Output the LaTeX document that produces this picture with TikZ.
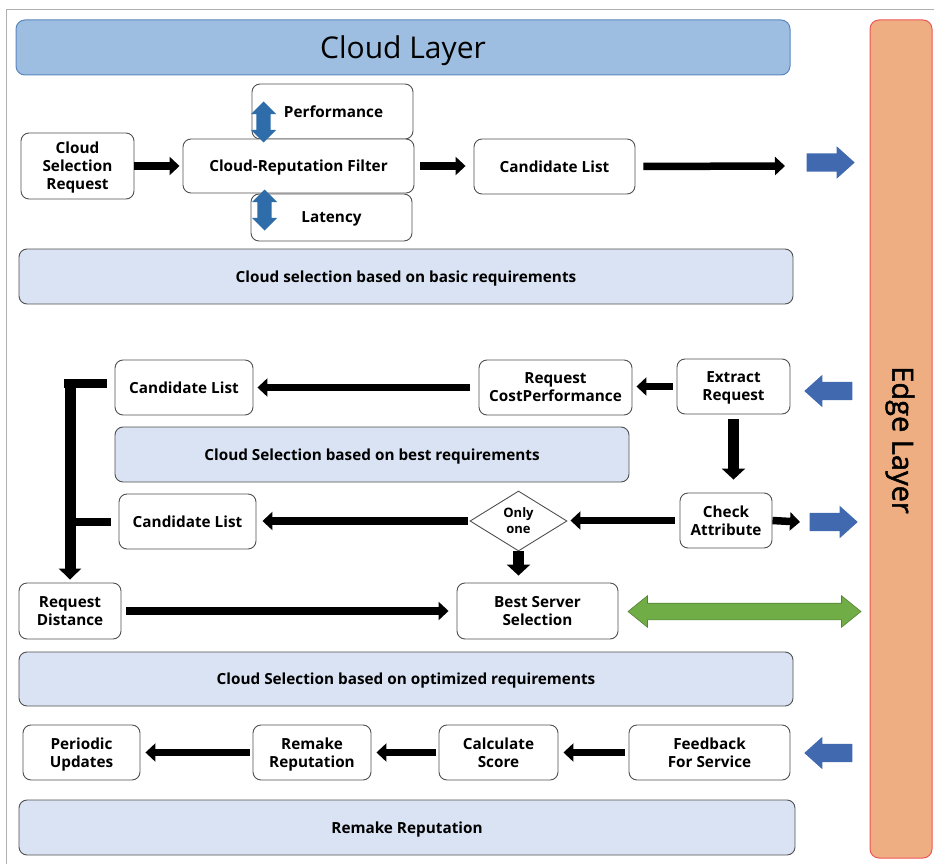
\documentclass[tikz,border=0pt]{standalone}
\usepackage{fontspec}
\setmainfont{Open Sans}
\newfontfamily\edgefont[FakeBold=1.6]{Open Sans}
\usetikzlibrary{arrows.meta,shapes.geometric,shapes.arrows,calc}
\definecolor{boxgray}{HTML}{505050}
\definecolor{bandfill}{HTML}{DAE3F3}
\definecolor{bannerfill}{HTML}{9DBEE0}
\definecolor{bannerdraw}{HTML}{5A86BE}
\definecolor{edgefill}{HTML}{EEAE82}
\definecolor{edgedraw}{HTML}{EE5555}
\definecolor{arrowblue}{HTML}{4169B0}
\definecolor{darkblue}{HTML}{2E6DAA}
\definecolor{arrowgreen}{HTML}{70AD47}
\definecolor{greendraw}{HTML}{548235}
\definecolor{framegray}{HTML}{B0B0B0}
\begin{document}
\begin{tikzpicture}[x=1pt,y=-1pt,
  box/.style={draw=boxgray, line width=0.9pt, rounded corners=8pt, fill=white, align=center,
    font=\bfseries\fontsize{15.3}{18}\selectfont, inner sep=2pt, text depth=0pt},
  band/.style={box, fill=bandfill},
  blk/.style={draw=black, line width=7.5pt, -{Triangle[length=10pt,width=18pt]}},
  blkw/.style={draw=black, line width=11pt, -{Triangle[length=11pt,width=23pt]}},
  barrow/.style={single arrow, fill=arrowblue, draw=none, single arrow head extend=7pt,
    single arrow tip angle=84, inner sep=0pt, text height=9pt, text depth=9pt,
    minimum width=32pt, minimum height=48pt, anchor=tip},
  vdarrow/.style={double arrow, fill=darkblue, draw=none, double arrow head extend=5.5pt,
    double arrow tip angle=90, inner sep=0pt, text height=7pt, text depth=7pt,
    minimum width=25pt, minimum height=41pt, rotate=90},
]
\useasboundingbox (0,0) rectangle (934,864);
\draw[framegray, line width=1pt] (6,864) -- (6,9.5) -- (934,9.5);

% banners
\node[draw=bannerdraw, fill=bannerfill, line width=1pt, rounded corners=9pt, text depth=0pt,
  minimum width=774pt, minimum height=55pt, font=\fontsize{30}{34}\selectfont] (cloud) at (403,47.5) {Cloud Layer};
\node[draw=edgedraw, fill=edgefill, line width=1pt, rounded corners=9pt,
  minimum width=62pt, minimum height=838pt] (edge) at (901,439) {};
\node[rotate=-90, font=\edgefont\fontsize{29}{33}\selectfont, inner sep=0pt] (edgetxt) at (900,440) {Edge Layer};

% top section
\node[box, minimum width=113pt, minimum height=66pt] (csr) at (77.5,166) {Cloud\\Selection\\Request};
\node[box, minimum width=161pt, minimum height=55pt] (perf) at (332.5,111.5) {\hspace*{2pt}Performance};
\node[box, minimum width=161pt, minimum height=47pt] (lat) at (331.5,217.5) {Latency};
\node[box, minimum width=231pt, minimum height=54pt] (filt) at (298.5,166) {Cloud-Reputation Filter};
\node[box, minimum width=161pt, minimum height=55pt] (cl1) at (554.5,166.5) {Candidate List};
\node[vdarrow] (va1) at (263.5,122) {};
\node[vdarrow] (va2) at (264.5,210) {};
\draw[blk, shorten >=3pt] (csr.east) -- (csr.east -| filt.west);
\draw[blk, shorten <=6pt, shorten >=8pt] (filt.east) -- (filt.east -| cl1.west);
\coordinate (c1) at (785,166);
\draw[blk, shorten <=8pt] (cl1.east) -- (c1);
\node[barrow] (ba1) at (855,162.5) {};
\node[band, minimum width=774pt, minimum height=55pt] (basic) at (406,276.5) {Cloud selection based on basic requirements};

% middle section
\node[box, minimum width=138pt, minimum height=55pt] (cl2) at (184,387.5) {Candidate List};
\node[box, minimum width=153pt, minimum height=55pt] (rcp) at (555.5,387.5) {Request\\CostPerformance};
\node[box, minimum width=113pt, minimum height=55pt] (ext) at (733.5,386.5) {Extract\\Request};
\node[barrow, rotate=180] (ba2) at (804,391) {};
\node[band, minimum width=514pt, minimum height=55pt] (best) at (372,454.5) {Cloud Selection based on best requirements};
\node[box, minimum width=92pt, minimum height=55pt] (chk) at (726,520.5) {Check\\Attribute};
\node[draw=boxgray, line width=0.9pt, fill=white, diamond, aspect=1.6, inner sep=0pt,
  minimum width=97pt, minimum height=60pt, align=center, text depth=0pt,
  font=\bfseries\fontsize{13}{16}\selectfont] (dia) at (518.5,521) {Only\\one};
\node[box, minimum width=137pt, minimum height=55pt] (cl3) at (187.5,521.5) {Candidate List};
\coordinate (c2) at (800,522);
\draw[blk] (chk.east) -- (c2);
\node[barrow] (ba3) at (858,522) {};
\node[box, minimum width=161pt, minimum height=56pt] (bss) at (537.5,611) {Best Server\\Selection};
\node[box, minimum width=102pt, minimum height=56pt] (rd) at (70,611) {Request\\Distance};
\node[double arrow, fill=arrowgreen, draw=greendraw, line width=0.6pt, double arrow head extend=7.5pt,
  double arrow tip angle=78, inner sep=0pt, text height=8pt, text depth=8pt,
  minimum width=31pt, minimum height=233pt] (ga) at (744.5,611.5) {};

\draw[blk, shorten <=4pt, shorten >=4pt] (ext.west) -- (ext.west -| rcp.east);
\draw[blk, shorten <=9pt, shorten >=4pt] (rcp.west) -- (rcp.west -| cl2.east);
\draw[blkw, shorten <=5pt, shorten >=13pt] (ext.south) -- (ext.south |- chk.north);
\draw[blk, shorten <=5pt, shorten >=3pt] (chk.west) -- (chk.west -| dia.east);
\draw[blk, shorten <=2pt, shorten >=6pt] (dia.west) -- (dia.west -| cl3.east);
\draw[blkw, shorten >=7pt] (dia.south) -- (dia.south |- bss.north);
\draw[blk, shorten <=5pt, shorten >=8pt] (rd.east) -- (rd.east -| bss.west);

% bracket
\draw[line width=9pt] ([xshift=-8pt,yshift=4.5pt]cl2.west) -- ($([yshift=4.5pt]cl2.west -| rd.north)+(-6,0)$);
\draw[line width=8pt] ([xshift=-8pt]cl3.west) -- (cl3.west -| rd.north);
\draw[draw=black, line width=11pt, -{Triangle[length=11pt,width=22pt]}, shorten >=3pt]
  ([yshift=9pt]cl2.west -| rd.north) -- (rd.north);

\node[band, minimum width=774pt, minimum height=54pt] (opt) at (406,679) {Cloud Selection based on optimized requirements};

% bottom section
\node[box, minimum width=117pt, minimum height=55pt] (pu) at (81.5,752.5) {Periodic\\Updates};
\node[box, minimum width=118pt, minimum height=55pt] (rr) at (312,752.5) {Remake\\Reputation};
\node[box, minimum width=119pt, minimum height=55pt] (cs) at (498.5,752.5) {Calculate\\Score};
\node[box, minimum width=161pt, minimum height=55pt] (ffs) at (709.5,752.5) {Feedback\\For Service};
\node[barrow, rotate=180] (ba4) at (804,753) {};
\draw[blk, shorten <=4pt, shorten >=5pt] (ffs.west) -- (ffs.west -| cs.east);
\draw[blk, shorten <=3pt, shorten >=5pt] (cs.west) -- (cs.west -| rr.east);
\draw[blk, shorten <=3pt, shorten >=5pt] (rr.west) -- (rr.west -| pu.east);
\node[band, minimum width=776pt, minimum height=55pt] (rrb) at (407,827.5) {Remake Reputation};
\end{tikzpicture}
\end{document}
